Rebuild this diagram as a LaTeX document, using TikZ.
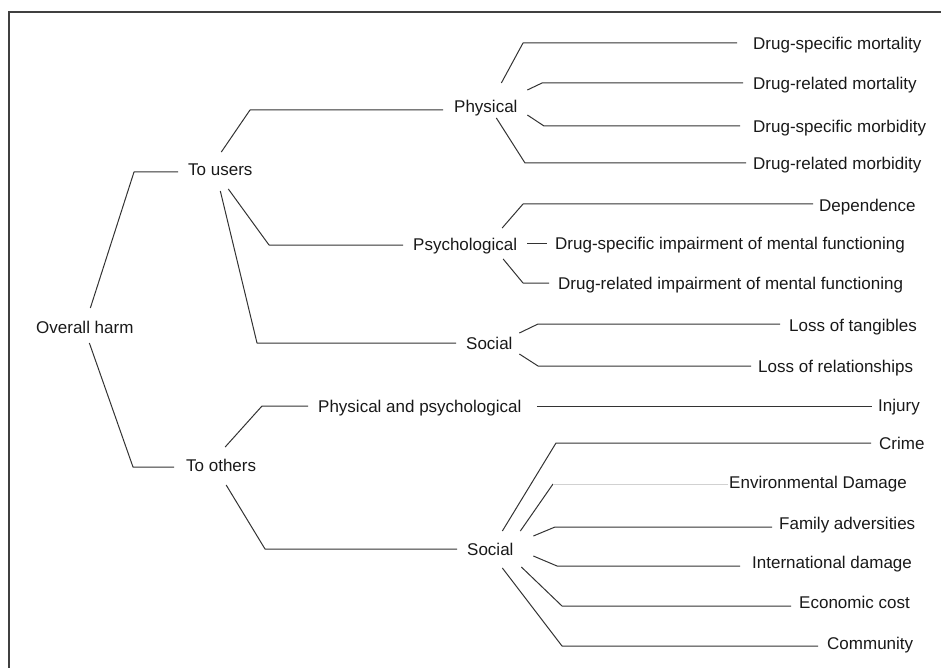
\documentclass[tikz,border=0pt]{standalone}
\usepackage{fontspec}
\setmainfont{Liberation Sans}
\usetikzlibrary{calc}
\tikzset{
  lbl/.style={anchor=west, inner sep=0pt, text height=12.2pt, text depth=0pt,
    font=\fontsize{17}{20}\selectfont, text=black!90},
  link/.style={draw=black!80, line width=1pt, line join=round},
  faint/.style={draw=black!18, line width=1pt},
  frame/.style={draw=black!75, line width=1.6pt}
}
\begin{document}
\begin{tikzpicture}[x=1pt,y=-1pt]
\useasboundingbox (0,0) rectangle (941,668);
\draw[frame] (9,670) -- (9,12) -- (943,12);
% nodes
\node[lbl] (oh) at (36,327) {Overall harm};
\node[lbl] (tu) at (188,169) {To users};
\node[lbl] (to) at (186,465) {To others};
\node[lbl] (ph) at (454,106) {Physical};
\node[lbl] (ps) at (413,244) {Psychological};
\node[lbl] (su) at (466,343) {Social};
\node[lbl] (pp) at (318,406) {Physical and psychological};
\node[lbl] (so) at (467,549) {Social};
\node[lbl] (l1) at (753,43) {Drug-specific mortality};
\node[lbl] (l2) at (753,83) {Drug-related mortality};
\node[lbl] (l3) at (753,126) {Drug-specific morbidity};
\node[lbl] (l4) at (753,163) {Drug-related morbidity};
\node[lbl] (l5) at (819,205) {Dependence};
\node[lbl] (l6) at (555,243) {Drug-specific impairment of mental functioning};
\node[lbl] (l7) at (558,283) {Drug-related impairment of mental functioning};
\node[lbl] (l8) at (789,325) {Loss of tangibles};
\node[lbl] (l9) at (758,366) {Loss of relationships};
\node[lbl] (l10) at (878,405) {Injury};
\node[lbl] (l11) at (879,443) {Crime};
\node[lbl] (l12) at (729,482) {Environmental Damage};
\node[lbl] (l13) at (779,523) {Family adversities};
\node[lbl] (l14) at (752,562) {International damage};
\node[lbl] (l15) at (799,602) {Economic cost};
\node[lbl] (l16) at (827,643) {Community};
% connectors
\draw[link] ($(oh)+(5.5,-19)$) -- (134,172) -- ($(tu.west |- 134,172)+(-10,0)$);
\draw[link] ($(oh)+(4.5,16)$) -- (133,467) -- ($(to.west |- 133,467)+(-12,0)$);
\draw[link] ($(tu)+(1,-17)$) -- (250,110) -- ($(ph.west |- 250,110)+(-11,0)$);
\draw[link] ($(tu)+(8,20)$) -- (269,245) -- ($(ps.west |- 269,245)+(-10,0)$);
\draw[link] ($(tu)+(0,22)$) -- (257,343) -- ($(su.west |- 257,343)+(-10,0)$);
\draw[link] ($(to)+(4,-18)$) -- (262,406) -- ($(pp.west |- 262,406)+(-10,0)$);
\draw[link] ($(to)+(5,20)$) -- (265,549) -- ($(so.west |- 265,549)+(-10,0)$);
\draw[link] ($(ph)+(15.5,-23)$) -- (523,43) -- ($(l1.west |- 523,43)+(-16,0)$);
\draw[link] ($(ph)+(41.5,-16)$) -- (542,83) -- ($(l2.west |- 542,83)+(-10,0)$);
\draw[link] ($(ph)+(41.5,9)$) -- (544,126) -- ($(l3.west |- 544,126)+(-13,0)$);
\draw[link] ($(ph)+(10.5,12)$) -- (525,163) -- ($(l4.west |- 525,163)+(-7,0)$);
\draw[link] ($(ps)+(37,-16)$) -- (523,204) -- ($(l5.west |- 523,204)+(-6,0)$);
\draw[link] ($(ps)+(62,-1)$) -- ($(l6.west |- 0,243)+(-8,0)$);
\draw[link] ($(ps)+(38,15)$) -- (523,283) -- ($(l7.west |- 523,283)+(-9,0)$);
\draw[link] ($(su)+(30,-10)$) -- (538,324) -- ($(l8.west |- 538,324)+(-9,0)$);
\draw[link] ($(su)+(30,11)$) -- (538,366) -- ($(l9.west |- 538,366)+(-7,0)$);
\draw[link] ($(pp)+(117,0)$) -- ($(l10.west |- 0,406)+(-6,0)$);
\draw[link] ($(so)+(12,-18)$) -- (556,443) -- ($(l11.west |- 556,443)+(-8,0)$);
\draw[link] ($(so)+(30,-18)$) -- (553,484);
\draw[faint] (553,484) -- ($(l12.west |- 553,484)+(-1,0)$);
\draw[link] ($(so)+(43,-13)$) -- (555,527) -- ($(l13.west |- 555,527)+(-7,0)$);
\draw[link] ($(so)+(43,7)$) -- (557,566) -- ($(l14.west |- 557,566)+(-12,0)$);
\draw[link] ($(so)+(31,18)$) -- (562,606) -- ($(l15.west |- 562,606)+(-8,0)$);
\draw[link] ($(so)+(12,19)$) -- (562,646) -- ($(l16.west |- 562,646)+(-9,0)$);
\end{tikzpicture}
\end{document}
